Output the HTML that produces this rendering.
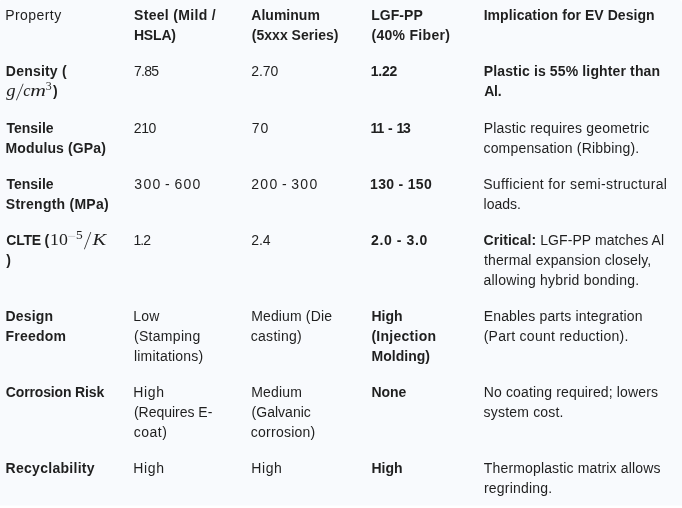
<!DOCTYPE html>
<html lang="en"><head><meta charset="utf-8"><title>Material comparison</title>
<style>
html,body{margin:0;padding:0;background:#fff;}
body{width:682px;height:508px;overflow:hidden;position:relative;font-family:"Liberation Sans",Arial,sans-serif;font-size:14px;line-height:20px;color:#1f1f1f;}
.wrap{position:absolute;left:-2px;top:-3px;width:685px;height:509px;background:linear-gradient(to bottom,#f8fafd 0,#f8fafd 508px,#fbfcfe 508px,#fbfcfe 100%);border-radius:10px 10px 0 0;overflow:hidden;}
table{border-collapse:collapse;table-layout:fixed;width:684px;margin:0;}
th,td{padding:8px 0 8px 8px;vertical-align:top;text-align:left;font-weight:400;white-space:nowrap;overflow:visible;}
b,strong{font-weight:700;}
.ln{display:block;height:20px;white-space:nowrap;}
.b{font-weight:700;}
.math{display:inline-block;position:relative;height:20px;vertical-align:top;font-family:"Liberation Serif","DejaVu Serif",serif;font-size:17px;line-height:20px;font-style:normal;font-weight:400;}
.math .g{position:absolute;line-height:20px;white-space:nowrap;transform-origin:0 50%;}
.math i{font-style:italic;}
</style></head><body>
<div class="wrap"><table>
<colgroup><col style="width:128px"><col style="width:118px"><col style="width:119px"><col style="width:113px"><col style="width:206px"></colgroup>
<thead>
<tr style="height:56px">
<th><span class="ln" id="r0c0l0" style="letter-spacing:0.429px;margin-left:-0.79px">Property</span></th>
<th><span class="ln b" id="r0c1l0" style="letter-spacing:0.321px;margin-left:0.02px">Steel (Mild /</span><span class="ln b" id="r0c1l1" style="letter-spacing:-0.167px;margin-left:-0.10px">HSLA)</span></th>
<th><span class="ln b" id="r0c2l0" style="letter-spacing:0.017px;margin-left:-0.71px">Aluminum</span><span class="ln b" id="r0c2l1" style="letter-spacing:0.034px;margin-left:-0.29px">(5xxx Series)</span></th>
<th><span class="ln b" id="r0c3l0" style="letter-spacing:0.036px;margin-left:0.28px">LGF-PP</span><span class="ln b" id="r0c3l1" style="letter-spacing:0.300px;margin-left:0.45px">(40% Fiber)</span></th>
<th><span class="ln b" id="r0c4l0" style="letter-spacing:0.060px;margin-left:-0.35px">Implication for EV Design</span></th>
</tr>
</thead>
<tbody>
<tr style="height:57px">
<td><span class="ln b" id="r1c0l0" style="letter-spacing:0.202px;margin-left:-0.16px">Density (</span><span class="ln" id="r1c0l1"><span class="math" id="m1" style="width:46.9px"><i class="g" id="g1" style="left:0;top:0;font-size:17px;transform:translate(0.20px,-0.40px) scale(1.104,0.992);">g</i><span class="g" id="g2" style="left:0;top:0;font-size:17px;transform:translate(11.23px,1.40px) skewX(-10.03deg) scale(1.000,1.453);">/</span><i class="g" id="g3" style="left:0;top:0;font-size:17px;transform:translate(17.30px,0.03px) scale(0.960,0.970);">c</i><i class="g" id="g4" style="left:0;top:0;font-size:17px;transform:translate(24.28px,0.07px) scale(1.278,0.982);">m</i><span class="g" id="g5" style="left:0;top:0;font-size:12px;transform:translate(39.87px,-4.85px) scale(0.995,0.953);">3</span></span><b id="m1b">)</b></span></td>
<td><span class="ln" id="r1c1l0" style="letter-spacing:-0.697px;margin-left:-0.03px">7.85</span></td>
<td><span class="ln" id="r1c2l0" style="letter-spacing:-0.029px;margin-left:-0.76px">2.70</span></td>
<td><span class="ln b" id="r1c3l0" style="letter-spacing:-0.280px;margin-left:-0.15px">1.22</span></td>
<td><span class="ln b" id="r1c4l0" style="letter-spacing:0.138px;margin-left:-0.26px">Plastic is 55% lighter than</span><span class="ln b" id="r1c4l1" style="letter-spacing:-0.223px;margin-left:0.20px">Al.</span></td>
</tr>
<tr style="height:56px">
<td><span class="ln b" id="r2c0l0" style="letter-spacing:-0.008px;margin-left:0.45px">Tensile</span><span class="ln b" id="r2c0l1" style="letter-spacing:0.131px;margin-left:-0.45px">Modulus (GPa)</span></td>
<td><span class="ln" id="r2c1l0" style="letter-spacing:-0.452px;margin-left:-0.15px">210</span></td>
<td><span class="ln" id="r2c2l0" style="letter-spacing:1.118px;margin-left:-0.38px">70</span></td>
<td><span class="ln b" id="r2c3l0" style="word-spacing:2.300px;letter-spacing:-1.200px;margin-left:-0.45px">11 - 13</span></td>
<td><span class="ln" id="r2c4l0" style="letter-spacing:0.178px;margin-left:-0.30px">Plastic requires geometric</span><span class="ln" id="r2c4l1" style="letter-spacing:0.179px;margin-left:-0.54px">compensation (Ribbing).</span></td>
</tr>
<tr style="height:56px">
<td><span class="ln b" id="r3c0l0" style="letter-spacing:-0.008px;margin-left:0.45px">Tensile</span><span class="ln b" id="r3c0l1" style="letter-spacing:0.249px;margin-left:-0.15px">Strength (MPa)</span></td>
<td><span class="ln" id="r3c1l0" style="word-spacing:-1.775px;letter-spacing:1.309px;margin-left:0.32px">300 - 600</span></td>
<td><span class="ln" id="r3c2l0" style="word-spacing:-2.175px;letter-spacing:1.424px;margin-left:-0.85px">200 - 300</span></td>
<td><span class="ln b" id="r3c3l0" style="word-spacing:0.200px;letter-spacing:0.256px;margin-left:-0.91px">130 - 150</span></td>
<td><span class="ln" id="r3c4l0" style="letter-spacing:0.363px;margin-left:-0.86px">Sufficient for semi-structural</span><span class="ln" id="r3c4l1" style="letter-spacing:-0.032px;margin-left:-0.42px">loads.</span></td>
</tr>
<tr style="height:76px">
<td><span class="ln" id="r4c0l0"><b id="m2a" style="display:inline-block;width:44.08px;position:relative;left:0.30px;letter-spacing:-0.220px">CLTE (</b><span class="math" id="m2" style="width:58px"><span class="g" id="h1" style="left:0;top:0;font-size:17px;transform:translate(0.02px,-0.07px) scale(1.047,0.970);">10</span><span class="g" id="h2" style="left:0;top:0;font-size:12px;transform:translate(17.52px,-3.70px) scale(1.260,1.000);color:#b0b2b6;">−</span><span class="g" id="h3" style="left:0;top:0;font-size:12px;transform:translate(26.09px,-4.60px) scale(1.121,1.013);">5</span><span class="g" id="h4" style="left:0;top:0;font-size:17px;transform:translate(35.22px,1.60px) skewX(-8.48deg) scale(1.000,1.514);">/</span><i class="g" id="h5" style="left:0;top:0;font-size:17px;transform:translate(42.54px,-0.27px) scale(1.201,1.022);">K</i></span></span><span class="ln b" id="r4c0l1" style="margin-left:0.33px">)</span></td>
<td><span class="ln" id="r4c1l0" style="letter-spacing:-1.025px;margin-left:-0.46px">1.2</span></td>
<td><span class="ln" id="r4c2l0" style="letter-spacing:-0.059px;margin-left:-0.76px">2.4</span></td>
<td><span class="ln b" id="r4c3l0" style="word-spacing:-0.175px;letter-spacing:0.668px;margin-left:0.00px">2.0 - 3.0</span></td>
<td><span class="ln" id="r4c4l0" style="letter-spacing:0.073px;margin-left:-0.52px"><b>Critical:</b> LGF-PP matches Al</span><span class="ln" id="r4c4l1" style="letter-spacing:0.133px;margin-left:0.00px">thermal expansion closely,</span><span class="ln" id="r4c4l2" style="letter-spacing:0.236px;margin-left:-0.52px">allowing hybrid bonding.</span></td>
</tr>
<tr style="height:76px">
<td><span class="ln b" id="r5c0l0" style="letter-spacing:0.164px;margin-left:-0.45px">Design</span><span class="ln b" id="r5c0l1" style="letter-spacing:0.198px;margin-left:-0.45px">Freedom</span></td>
<td><span class="ln" id="r5c1l0" style="letter-spacing:0.214px;margin-left:-0.66px">Low</span><span class="ln" id="r5c1l1" style="letter-spacing:0.317px;margin-left:-0.10px">(Stamping</span><span class="ln" id="r5c1l2" style="letter-spacing:0.218px;margin-left:-0.10px">limitations)</span></td>
<td><span class="ln" id="r5c2l0" style="letter-spacing:0.139px;margin-left:-0.79px">Medium (Die</span><span class="ln" id="r5c2l1" style="letter-spacing:0.261px;margin-left:-1.19px">casting)</span></td>
<td><span class="ln b" id="r5c3l0" style="margin-left:0.44px">High</span><span class="ln b" id="r5c3l1" style="letter-spacing:0.265px;margin-left:0.45px">(Injection</span><span class="ln b" id="r5c3l2" style="letter-spacing:0.034px;margin-left:0.44px">Molding)</span></td>
<td><span class="ln" id="r5c4l0" style="letter-spacing:0.161px;margin-left:-0.30px">Enables parts integration</span><span class="ln" id="r5c4l1" style="letter-spacing:0.284px;margin-left:-0.39px">(Part count reduction).</span></td>
</tr>
<tr style="height:76px">
<td><span class="ln b" id="r6c0l0" style="letter-spacing:-0.143px;margin-left:-0.26px">Corrosion Risk</span></td>
<td><span class="ln" id="r6c1l0" style="letter-spacing:0.605px;margin-left:-0.66px">High</span><span class="ln" id="r6c1l1" style="letter-spacing:-0.018px;margin-left:-0.10px">(Requires E-</span><span class="ln" id="r6c1l2" style="letter-spacing:0.455px;margin-left:-0.17px">coat)</span></td>
<td><span class="ln" id="r6c2l0" style="letter-spacing:0.195px;margin-left:-0.79px">Medium</span><span class="ln" id="r6c2l1" style="letter-spacing:0.009px;margin-left:-0.40px">(Galvanic</span><span class="ln" id="r6c2l2" style="letter-spacing:0.247px;margin-left:-1.19px">corrosion)</span></td>
<td><span class="ln b" id="r6c3l0" style="letter-spacing:-0.067px;margin-left:0.44px">None</span></td>
<td><span class="ln" id="r6c4l0" style="letter-spacing:0.152px;margin-left:-0.30px">No coating required; lowers</span><span class="ln" id="r6c4l1" style="letter-spacing:0.193px;margin-left:-0.46px">system cost.</span></td>
</tr>
<tr style="height:53px">
<td><span class="ln b" id="r7c0l0" style="letter-spacing:0.281px;margin-left:-0.45px">Recyclability</span></td>
<td><span class="ln" id="r7c1l0" style="letter-spacing:0.605px;margin-left:-0.66px">High</span></td>
<td><span class="ln" id="r7c2l0" style="letter-spacing:0.614px;margin-left:-0.79px">High</span></td>
<td><span class="ln b" id="r7c3l0" style="margin-left:0.44px">High</span></td>
<td><span class="ln" id="r7c4l0" style="letter-spacing:0.152px;margin-left:-0.19px">Thermoplastic matrix allows</span><span class="ln" id="r7c4l1" style="letter-spacing:0.207px;margin-left:-0.02px">regrinding.</span></td>
</tr>
</tbody></table></div></body></html>
